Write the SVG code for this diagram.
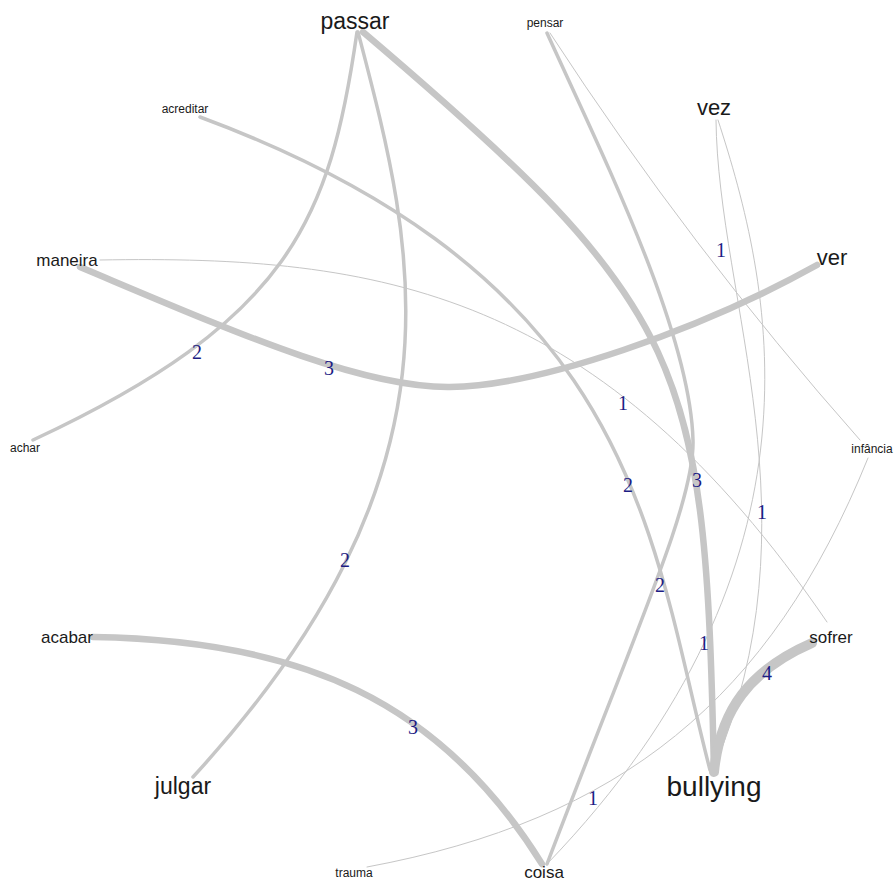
<svg xmlns="http://www.w3.org/2000/svg" width="895" height="881" viewBox="0 0 895 881">
<style>
.e{fill:none;stroke:#c6c6c6;stroke-linecap:round}
.w1{stroke-width:1}
.w2{stroke-width:3.5}
.w3{stroke-width:6.5}
.w4{stroke-width:10}
.n{font-family:"Liberation Sans",Arial,sans-serif;fill:#1a1a1a;text-anchor:middle}
.l{font-family:"Liberation Serif","Times New Roman",serif;fill:#1c1c84;font-size:20px;text-anchor:middle}
</style>
<rect width="895" height="881" fill="#ffffff"/>
<g id="edges">
<path id="passar-achar" class="e w2" d="M357,32 C330,220 290,320 33,440"/>
<path id="passar-julgar" class="e w2" d="M358,32 C415,250 475,470 193,777"/>
<path id="passar-bullying" class="e w3" d="M363,32 C690,310 705,360 714,772"/>
<path id="pensar-coisa" class="e w2" d="M547,33 C600,150 690,330 693,440 C695,500 640,620 547,864"/>
<path id="pensar-infancia" class="e w1" d="M550,33 Q690,248 860,440"/>
<path id="acreditar-bullying" class="e w2" d="M200,117 C640,280 650,540 710,770"/>
<path id="vez-bullying" class="e w1" d="M716,120 C718,300 820,520 713,770"/>
<path id="vez-coisa" class="e w1" d="M718,120 C770,280 840,560 547,864"/>
<path id="maneira-ver" class="e w3" d="M80,267 C230,330 360,388 450,387 C540,386 700,330 817,265"/>
<path id="maneira-sofrer" class="e w1" d="M100,260 C380,255 600,290 827,622"/>
<path id="infancia-trauma" class="e w1" d="M868,458 C770,700 620,820 367,867"/>
<path id="acabar-coisa" class="e w3" d="M93,637 C300,640 440,700 542,864"/>
<path id="sofrer-bullying" class="e w4" d="M812,643 C750,670 720,710 714,772"/>
</g>
<g id="edge-labels">
<text class="l" x="197" y="359">2</text>
<text class="l" x="329" y="375">3</text>
<text class="l" x="345" y="567">2</text>
<text class="l" x="413" y="734">3</text>
<text class="l" x="721" y="257">1</text>
<text class="l" x="623" y="410">1</text>
<text class="l" x="628" y="492">2</text>
<text class="l" x="697" y="487">3</text>
<text class="l" x="762" y="519">1</text>
<text class="l" x="660" y="592">2</text>
<text class="l" x="704" y="650">1</text>
<text class="l" x="767" y="680">4</text>
<text class="l" x="593" y="805">1</text>
</g>
<g id="node-passar"><text class="n" x="355" y="29" font-size="23">passar</text></g>
<g id="node-pensar"><text class="n" x="545" y="27" font-size="12">pensar</text></g>
<g id="node-acreditar"><text class="n" x="185" y="113" font-size="12">acreditar</text></g>
<g id="node-vez"><text class="n" x="714" y="115" font-size="22">vez</text></g>
<g id="node-maneira"><text class="n" x="67" y="266" font-size="17">maneira</text></g>
<g id="node-ver"><text class="n" x="832" y="265" font-size="22">ver</text></g>
<g id="node-achar"><text class="n" x="25" y="452" font-size="12">achar</text></g>
<g id="node-infancia"><text class="n" x="872" y="453" font-size="12">infância</text></g>
<g id="node-acabar"><text class="n" x="67" y="643" font-size="17">acabar</text></g>
<g id="node-sofrer"><text class="n" x="831" y="643" font-size="17">sofrer</text></g>
<g id="node-julgar"><text class="n" x="183" y="794" font-size="23">julgar</text></g>
<g id="node-bullying"><text class="n" x="714" y="796" font-size="28">bullying</text></g>
<g id="node-trauma"><text class="n" x="354" y="877" font-size="12">trauma</text></g>
<g id="node-coisa"><text class="n" x="544" y="878" font-size="17">coisa</text></g>
</svg>
